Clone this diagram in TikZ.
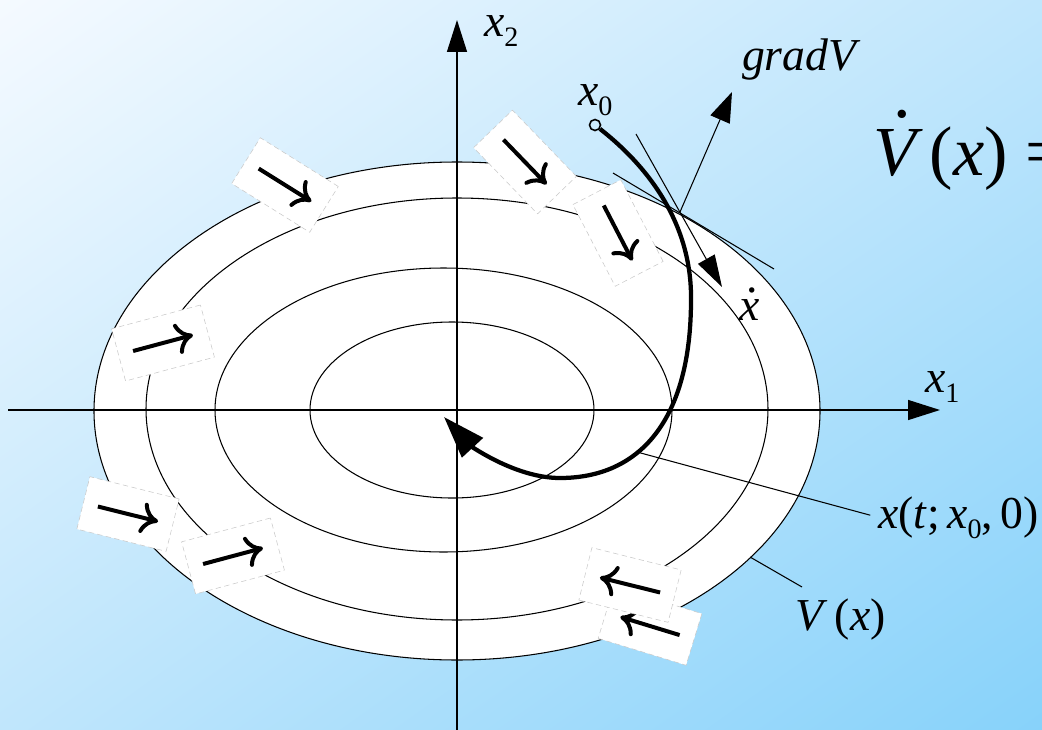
\documentclass[tikz,border=0pt]{standalone}
\usepackage{fontspec}
\setmainfont{Liberation Serif}
\usetikzlibrary{arrows.meta,shadings}

\definecolor{cf5faff}{RGB}{245,250,255}
\definecolor{cc0e6fc}{RGB}{192,230,252}
\definecolor{c87d2fa}{RGB}{135,210,250}
\definecolor{cc8c8c8}{RGB}{200,200,200}

\newsavebox{\itdotbox}
\newcommand{\itdot}[3]{\sbox{\itdotbox}{\textit{#1}}\rlap{\hbox to \wd\itdotbox{\hss\kern#3\raisebox{#2\ht\itdotbox}{.}\hss}}\usebox{\itdotbox}}
\newcommand{\lsub}[1]{\raisebox{-0.22em}{\fontsize{16}{16}\selectfont #1}}

\tikzset{
  lbl/.style={font=\fontsize{26}{30}\selectfont, anchor=base west, inner sep=0pt, outer sep=0pt},
  level/.style={draw=black, fill=white, line width=0.6pt},
  axis/.style={draw=black, line width=0.8pt, -{Triangle[length=0.64cm,width=0.4cm]}},
  flowbox/.style={draw=cc8c8c8, fill=white, densely dashed, line width=0.3pt, minimum width=1.84cm, minimum height=1.08cm, inner sep=0pt, outer sep=0pt},
  flowarrow/.style={line width=0.08cm, shorten <=0.3cm, shorten >=0.3cm, -{Computer Modern Rightarrow[length=0.34cm,width=0.62cm]}},
  thinline/.style={draw=black, line width=0.6pt},
  traj/.style={draw=black, line width=0.085cm, -{Triangle[length=0.84cm,width=0.56cm]}}
}

\begin{document}
\begin{tikzpicture}[x=0.02cm, y=-0.02cm]
  \useasboundingbox (0,0) rectangle (1042,730);



  \shade[upper left=cf5faff, upper right=cc0e6fc, lower left=cc0e6fc, lower right=c87d2fa] (0,0) rectangle (1042,730);



  \path[level] (457,411) ellipse (363 and 249);
  \path[level] (457,409) ellipse (311 and 211);
  \path[level] (443.5,410) ellipse (228.5 and 142);
  \path[level] (452,410) ellipse (142 and 88);



  \coordinate (x1start) at (8,410);
  \coordinate (x1tip) at (940,410);
  \coordinate (x2start) at (457,735);
  \coordinate (x2tip) at (457,20);
  \path[axis] (x1start) -- (x1tip);
  \path[axis] (x2start) -- (x2tip);



  \foreach \nm/\px/\py/\ang in {b1/285/185/-32, b2/163/343/15, b3/128/514/-14, b4/233/556/15, b5/525/162/-46, b6/618/233/-62.6, b8/650/626/163, b7/630/585/166} {
    \node[flowbox, rotate=\ang] (\nm) at (\px,\py) {};
    \draw[flowarrow] (\nm.west) -- (\nm.east);
  }



  \begin{scope}[text=black]
    \node[lbl] (lbxtwo) at (484,36) {\textit{x}\lsub{2}};
    \node[lbl] (lbxone) at (925,392) {\textit{x}\lsub{1}};
    \node[lbl] (lbxzero) at (578,105) {\textit{x}\lsub{0}};
    \node[lbl] (lbgrad) at (742,71) {\textit{gradV}};
    \node[lbl] (lbxdot) at (739,320) {\itdot{x}{1.3}{0.12em}};
    \node[lbl] (lbtraj) at (878,528) {\textit{x}(\textit{t};\,\textit{x}\lsub{0},\,0)};
    \node[lbl] (lbV) at (795,630) {\textit{V}\,(\textit{x})};
    \node[lbl, font=\fontsize{40}{48}\selectfont] (lbVdot) at (873,175) {\itdot{V}{1.25}{0.12em}\kern0.1em(\textit{x}) =};
  \end{scope}



  \coordinate (touch) at (680,212);
  \coordinate (gtip) at (732,92);
  \coordinate (tanA) at (613,173);
  \coordinate (tanB) at (774,269);
  \coordinate (vstart) at (636,134);
  \coordinate (vtip) at (722,287);
  \path[thinline, -{Triangle[length=0.6cm,width=0.42cm]}] (touch) -- (gtip);
  \path[thinline] (tanA) -- (tanB);
  \path[thinline, -{Triangle[length=0.64cm,width=0.38cm]}] (vstart) -- (vtip);



  \coordinate (trajpt) at (637,452);
  \coordinate (levpt) at (750,557);
  \coordinate (levend) at (802,587);
  \path[thinline, shorten >=0.16cm] (trajpt) -- (lbtraj.west);
  \path[thinline] (levpt) -- (levend);



  \node[draw=black, circle, minimum size=0.22cm, inner sep=0pt, line width=0.9pt] (xzero) at (595,125) {};
  \coordinate (t1) at (691,300);
  \coordinate (t2) at (560,478);
  \coordinate (tend) at (444,417);
  \path[traj] (xzero) .. controls (655,172) and (692,230) .. (t1) .. controls (691,420) and (640,478) .. (t2) .. controls (515,478) and (470,445) .. (tend);

\end{tikzpicture}
\end{document}
